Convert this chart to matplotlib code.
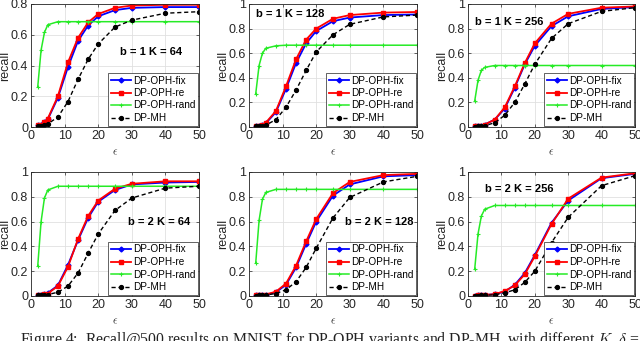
import matplotlib
matplotlib.use("Agg")
import matplotlib.pyplot as plt

eps = [2, 3, 4, 5, 8, 11, 14, 17, 20, 25, 30, 40, 50]

titles = ["b = 1 K = 64", "b = 1 K = 128", "b = 1 K = 256",
          "b = 2 K = 64", "b = 2 K = 128", "b = 2 K = 256"]

fix = [
    [0.01, 0.015, 0.03, 0.05, 0.19, 0.39, 0.56, 0.66, 0.72, 0.76, 0.775, 0.78, 0.78],
    [0.005, 0.01, 0.015, 0.03, 0.12, 0.31, 0.52, 0.68, 0.78, 0.86, 0.89, 0.91, 0.915],
    [0.005, 0.008, 0.01, 0.02, 0.06, 0.15, 0.32, 0.51, 0.66, 0.82, 0.90, 0.96, 0.975],
    [0.01, 0.01, 0.015, 0.025, 0.085, 0.25, 0.45, 0.63, 0.76, 0.855, 0.90, 0.915, 0.92],
    [0.005, 0.007, 0.01, 0.01, 0.03, 0.09, 0.23, 0.42, 0.60, 0.81, 0.90, 0.965, 0.975],
    [0.003, 0.005, 0.007, 0.008, 0.015, 0.035, 0.09, 0.185, 0.33, 0.59, 0.77, 0.95, 0.985],
]
re = [
    [0.01, 0.015, 0.03, 0.055, 0.20, 0.42, 0.58, 0.68, 0.735, 0.775, 0.79, 0.795, 0.795],
    [0.01, 0.01, 0.02, 0.035, 0.13, 0.33, 0.55, 0.71, 0.80, 0.88, 0.91, 0.93, 0.935],
    [0.005, 0.008, 0.01, 0.02, 0.06, 0.16, 0.33, 0.52, 0.68, 0.84, 0.92, 0.97, 0.98],
    [0.01, 0.01, 0.015, 0.02, 0.08, 0.235, 0.46, 0.645, 0.77, 0.865, 0.905, 0.925, 0.925],
    [0.005, 0.007, 0.01, 0.012, 0.035, 0.10, 0.245, 0.44, 0.62, 0.83, 0.92, 0.975, 0.985],
    [0.003, 0.005, 0.007, 0.008, 0.015, 0.04, 0.085, 0.175, 0.32, 0.58, 0.785, 0.955, 0.99],
]
rand = [
    [0.26, 0.50, 0.615, 0.665, 0.685, 0.685, 0.685, 0.685, 0.685, 0.685, 0.685, 0.685, 0.685],
    [0.27, 0.50, 0.60, 0.64, 0.66, 0.665, 0.665, 0.665, 0.665, 0.665, 0.665, 0.665, 0.665],
    [0.21, 0.38, 0.46, 0.485, 0.50, 0.50, 0.50, 0.50, 0.50, 0.50, 0.50, 0.50, 0.50],
    [0.24, 0.60, 0.79, 0.855, 0.885, 0.885, 0.885, 0.885, 0.885, 0.885, 0.885, 0.885, 0.885],
    [0.265, 0.61, 0.78, 0.835, 0.86, 0.86, 0.86, 0.86, 0.86, 0.86, 0.86, 0.86, 0.86],
    [0.215, 0.50, 0.645, 0.70, 0.73, 0.73, 0.73, 0.73, 0.73, 0.73, 0.73, 0.73, 0.73],
]
mh = [
    [0.005, 0.007, 0.01, 0.02, 0.065, 0.165, 0.31, 0.44, 0.54, 0.65, 0.695, 0.74, 0.75],
    [0.005, 0.007, 0.01, 0.015, 0.06, 0.16, 0.30, 0.46, 0.61, 0.75, 0.835, 0.895, 0.91],
    [0.003, 0.005, 0.007, 0.01, 0.035, 0.095, 0.20, 0.35, 0.51, 0.72, 0.84, 0.94, 0.97],
    [0.005, 0.007, 0.01, 0.012, 0.03, 0.08, 0.185, 0.345, 0.50, 0.69, 0.79, 0.87, 0.885],
    [0.003, 0.005, 0.007, 0.008, 0.02, 0.05, 0.115, 0.23, 0.385, 0.63, 0.795, 0.92, 0.965],
    [0.002, 0.003, 0.005, 0.006, 0.01, 0.025, 0.05, 0.11, 0.20, 0.43, 0.635, 0.89, 0.97],
]

caption = ("Figure 4:  Recall@500 results on MNIST for DP-OPH variants and DP-MH, "
           "with different $K$, $\\delta$ =")

W, H = 640, 341
plt.rcParams['font.family'] = ['Liberation Sans', 'DejaVu Sans']
plt.rcParams['mathtext.fontset'] = 'cm'
fig = plt.figure(figsize=(W / 100, H / 100), dpi=100)

# axes boxes in pixels: left, right, top, bottom
lefts = [31, 249, 468]
rights = [199, 417, 635]
tops = [4, 172]
bottoms = [127, 296]
text_pos = [(0.53, 0.61), (0.04, 0.92), (0.04, 0.85),
            (0.58, 0.60), (0.57, 0.60), (0.10, 0.86)]

for i in range(6):
    r, c = divmod(i, 3)
    l, rr = lefts[c], rights[c]
    t, b = tops[r], bottoms[r]
    ax = fig.add_axes([l / W, 1 - b / H, (rr - l) / W, (b - t) / H])
    ax.plot(eps, fix[i], color=(0, 0, 1), lw=1.3, marker='D', ms=2.5, label='DP-OPH-fix')
    ax.plot(eps, re[i], color=(1, 0, 0), lw=1.3, marker='s', ms=2.8, label='DP-OPH-re')
    ax.plot(eps, rand[i], color=(0.15, 0.92, 0.15), lw=1.1, marker='+', ms=3.5, mew=0.8,
            label='DP-OPH-rand')
    ax.plot(eps, mh[i], color='black', lw=1.0, ls='--', dashes=(3, 2), marker='o', ms=2.8,
            label='DP-MH')
    ax.set_xlim(0, 50)
    ax.set_xticks([0, 10, 20, 30, 40, 50])
    if i == 0:
        ax.set_ylim(0, 0.8)
        ax.set_yticks([0, 0.2, 0.4, 0.6, 0.8])
        ax.set_yticklabels(['0', '0.2', '0.4', '0.6', '0.8'])
    else:
        ax.set_ylim(0, 1)
        ax.set_yticks([0, 0.2, 0.4, 0.6, 0.8, 1])
        ax.set_yticklabels(['0', '0.2', '0.4', '0.6', '0.8', '1'])
    ax.grid(True, color='#e0e0e0', lw=0.6)
    ax.set_axisbelow(True)
    ax.tick_params(labelsize=9, colors='#262626', length=2, width=0.5, direction='in',
                   top=True, right=True, pad=2)
    for s in ax.spines.values():
        s.set_linewidth(0.6)
        s.set_color('#262626')
    ax.set_ylabel('recall', fontsize=9, color='#262626', labelpad=0)
    ax.set_xlabel(r'$\epsilon$', fontsize=8, color='#262626', labelpad=4)
    ax.text(text_pos[i][0], text_pos[i][1], titles[i], transform=ax.transAxes,
            fontsize=8, fontweight='bold', va='center', ha='left')
    leg = ax.legend(loc='lower right', fontsize=7.2, borderaxespad=0.15, handlelength=2.0,
                    handletextpad=0.2, labelspacing=0.25, borderpad=0.25, fancybox=False,
                    framealpha=1)
    leg.get_frame().set_edgecolor('#262626')
    leg.get_frame().set_linewidth(0.5)

fig.text(20 / W, 1 - 344 / H, caption, fontsize=11.3, family='Liberation Serif',
         ha='left', va='baseline', color='#222222')

fig.savefig('out.png', dpi=100)
